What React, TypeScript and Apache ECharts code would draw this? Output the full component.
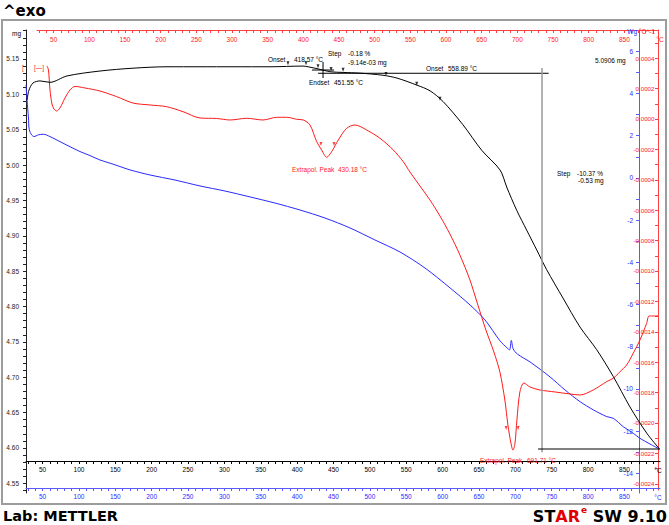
import React, { useEffect, useRef } from "react";
import * as echarts from "echarts";

// ---------- data ----------
// TGA mass curve (black): temperature °C, mass mg
const blackTemp = [28.6, 31.3, 36.8, 46.4, 60.2, 83.5, 128.9, 174.3, 221, 266.4, 311.8, 362.7, 408, 415, 428.8, 445.3, 463.2, 486.4, 518, 537.3, 564.8, 582.7, 600.5, 628, 653.7, 679, 688.1, 701.9, 715.6, 729.4, 743.1, 765.5, 788.9, 811.8, 834.7, 857.6, 880.6, 897.9];
const blackMass = [5.092, 5.106, 5.116, 5.119, 5.117, 5.126, 5.133, 5.137, 5.139, 5.139, 5.139, 5.139, 5.140, 5.139, 5.136, 5.132, 5.131, 5.130, 5.127, 5.123, 5.113, 5.105, 5.090, 5.057, 5.021, 4.993, 4.969, 4.936, 4.908, 4.880, 4.852, 4.812, 4.771, 4.739, 4.701, 4.658, 4.621, 4.599];
// small evaluation markers on the TGA curve
const blackMarkTemp = [387.4, 412.2, 428.7, 446.6, 463.2, 522.2, 564.4, 596.4];
const blackMarkMass = [5.141, 5.141, 5.137, 5.133, 5.132, 5.126, 5.112, 5.091];

// blue curve: temperature °C, value (Wg^-1)
const blueTemp = [27.2, 28.6, 30.6, 31.7, 35.0, 38.2, 44.1, 51.0, 60.2, 73.9, 87.7, 101.4, 115.2, 128.9, 142.7, 156.4, 170.2, 197.7, 232, 266.4, 300.8, 335.2, 369.5, 403.9, 438.3, 472.7, 507, 541.4, 575.8, 610.2, 637.7, 658.3, 678.9, 688.5, 692, 694.5, 697, 703, 720.2, 747.7, 768.4, 788.9, 807.2, 825.6, 834.7, 848.5, 862.2, 871.4, 885.2, 897.9];
const blueVal = [4.41, 3.70, 2.84, 2.28, 2.04, 1.96, 2.04, 2.07, 1.96, 1.72, 1.48, 1.25, 1.06, 0.85, 0.70, 0.54, 0.38, 0.14, -0.10, -0.38, -0.62, -0.90, -1.19, -1.52, -1.90, -2.37, -2.94, -3.51, -4.27, -5.21, -6.02, -6.73, -7.72, -8.05, -8.15, -7.7, -8.1, -8.35, -8.72, -9.43, -10.05, -10.6, -10.99, -11.31, -11.39, -11.79, -12.1, -12.34, -12.61, -12.84];

// red curve: temperature °C, value (°C^-1)
const redTemp = [40.6, 42.7, 44.8, 47.6, 50.4, 54.2, 58.8, 65.8, 72.9, 79.9, 93.9, 114.9, 138.3, 161.2, 185.1, 208.4, 231.3, 255.1, 278.5, 297.2, 320.6, 343.4, 362.6, 376.7, 390.7, 399.9, 409.3, 418.7, 425.7, 432.7, 439.7, 449, 460.8, 472.4, 488.8, 507.5, 526.1, 540.1, 549.5, 563.5, 577.5, 591.5, 605.5, 619.5, 633.5, 644.7, 655.9, 667.1, 675.5, 682.5, 686.8, 691, 693.8, 696.6, 699.4, 703.6, 709.2, 717.6, 731.6, 752.7, 773.7, 787.7, 806.4, 825.2, 834.5, 843.8, 853.3, 862.5, 871.9, 881.3, 884.9, 897.1];
const redVal = [0.000349, 0.000322, 0.000191, 0.0000987, 0.0000658, 0.0000526, 0.0000724, 0.000138, 0.000191, 0.000214, 0.000204, 0.000184, 0.000147, 0.000105, 0.0000921, 0.0000809, 0.000048, 0.0000066, 0.0000033, -0.0000066, 0.0000046, -0.0000066, 0.0000112, 0.0000112, -0.000002, -0.0000066, -0.0000395, -0.000149, -0.000204, -0.000252, -0.000215, -0.000138, -0.0000612, -0.0000395, -0.0000724, -0.000127, -0.000204, -0.000281, -0.000349, -0.000441, -0.000533, -0.000638, -0.000757, -0.000895, -0.001059, -0.001224, -0.001388, -0.001533, -0.001664, -0.001849, -0.002013, -0.002132, -0.002178, -0.002138, -0.00198, -0.001796, -0.001737, -0.001763, -0.001783, -0.001796, -0.001809, -0.001816, -0.001783, -0.001728, -0.001706, -0.001663, -0.001618, -0.001541, -0.001454, -0.001344, -0.001296, -0.001296];
// peak evaluation markers on the red curve
const redMarkTemp = [424.7, 443.0, 684.3, 701.1];
const redMarkVal = [-0.000178, -0.000178, -0.002046, -0.002046];

// evaluation lines on the TGA curve (temperature °C, mass mg)
const onsetLineTemp = [428.8, 745.8];
const onsetLineMass = [5.1298, 5.1298];
const stepVertTemp = [736.7, 736.7];
const stepVertMass = [5.1373, 4.594];
const stepBottomTemp = [731.2, 898.9];
const stepBottomMass = [4.5985, 4.5985];
const crossVTemp = [435.6, 435.6];
const crossVMass = [5.1458, 5.1231];
const crossHTemp = [420.4, 450.7];
const crossHMass = [5.1344, 5.1344];

// tick labels
const tempLabels = [50, 100, 150, 200, 250, 300, 350, 400, 450, 500, 550, 600, 650, 700, 750, 800, 850];
const massLabels = [4.55, 4.6, 4.65, 4.7, 4.75, 4.8, 4.85, 4.9, 4.95, 5.0, 5.05, 5.1, 5.15];
const blueLabels = [-14, -12, -10, -8, -6, -4, -2, 0, 2, 4, 6];
const redLabels = [-0.0024, -0.0022, -0.002, -0.0018, -0.0016, -0.0014, -0.0012, -0.001, -0.0008, -0.0006, -0.0004, -0.0002, 0, 0.0002, 0.0004];

// ---------- helpers ----------
const FONT = '"Liberation Sans", Arial, sans-serif';
const BIG = '"DejaVu Sans", sans-serif';
const RED = "#ff1a1a";
const RED_AX = "#ff4040";
const BLUE = "#2a2aff";
const BLUE_AX = "#5a5aff";

function steps(a: number, b: number, s: number, dec: number) {
  const out: number[] = [];
  const n = Math.round((b - a) / s);
  for (let i = 0; i <= n; i++) out.push(+(a + i * s).toFixed(dec));
  return out;
}
const zip = (a: number[], b: number[]) => a.map((v, i) => [v, b[i]]);

function axis(o: any) {
  return {
    type: "value",
    gridIndex: o.grid,
    position: o.pos,
    offset: o.offset || 0,
    min: o.min,
    max: o.max,
    axisLine: { show: true, onZero: false, lineStyle: { color: o.color, width: 1 } },
    axisTick: {
      show: true,
      inside: !!o.tickInside,
      length: 3,
      customValues: o.ticks,
      lineStyle: { color: o.color, width: 1 },
    },
    axisLabel: {
      show: true,
      inside: !!o.labelInside,
      customValues: o.labels,
      formatter: o.fmt,
      color: o.labelColor || o.color,
      fontSize: o.fontSize || 6.5,
      fontFamily: FONT,
      margin: o.margin,
    },
    splitLine: { show: false },
    minorTick: { show: false },
  };
}

function txt(text: string, x: number, y: number, fill = "#000", size = 6.5, align = "left", weight = "normal", family = FONT) {
  return {
    type: "text",
    x,
    y,
    z: 100,
    silent: true,
    style: { text, fill, font: `${weight} ${size}px ${family}`, textAlign: align, textVerticalAlign: "middle" },
  };
}

function lineSeries(name: string, t: number[], v: number[], xi: number, yi: number, color: string, width = 1, smooth: any = 0.3) {
  return {
    name,
    type: "line",
    xAxisIndex: xi,
    yAxisIndex: yi,
    data: zip(t, v),
    showSymbol: false,
    symbol: "none",
    smooth,
    lineStyle: { color, width },
    silent: true,
  };
}

function markers(name: string, t: number[], v: number[], xi: number, yi: number, color: string) {
  return {
    name,
    type: "scatter",
    xAxisIndex: xi,
    yAxisIndex: yi,
    data: zip(t, v),
    symbol: "triangle",
    symbolRotate: 180,
    symbolSize: [3, 4],
    symbolOffset: [0, -2],
    itemStyle: { color },
    silent: true,
    z: 5,
  };
}

export default function App() {
  const ref = useRef<HTMLDivElement>(null);
  useEffect(() => {
    if (!ref.current) return;
    const chart = echarts.init(ref.current, undefined, { renderer: "svg" });
    const tempTicks = steps(30, 890, 10, 0);
    const fmtT = (v: number) => String(Math.round(v));
    const option: any = {
      animation: false,
      backgroundColor: "#fff",
      textStyle: { fontFamily: FONT },
      grid: [
        { left: 26, top: 30, width: 634, height: 463 },
        { left: 37, top: 30, width: 621, height: 460 },
      ],
      xAxis: [
        axis({ grid: 0, pos: "bottom", offset: -32, min: 27.2, max: 898.9, color: "#000", ticks: tempTicks, labels: tempLabels, fmt: fmtT, margin: 5 }),
        axis({ grid: 0, pos: "bottom", offset: -5, min: 27.2, max: 898.9, color: BLUE_AX, labelColor: BLUE, ticks: tempTicks, labels: tempLabels, fmt: fmtT, margin: 5 }),
        axis({ grid: 1, pos: "top", min: 26.6, max: 897.2, color: RED_AX, labelColor: RED, ticks: tempTicks, labels: tempLabels, fmt: fmtT, tickInside: true, labelInside: true, margin: 6 }),
      ],
      yAxis: [
        axis({ grid: 0, pos: "left", min: 4.5363, max: 5.191, color: "#222", ticks: steps(4.54, 5.19, 0.01, 2), labels: massLabels, fmt: (v: number) => v.toFixed(2), margin: 7 }),
        axis({ grid: 0, pos: "right", offset: -21, min: -14.93, max: 7.01, color: BLUE_AX, labelColor: BLUE, ticks: steps(-14, 7, 1, 0), labels: blueLabels, fmt: (v: number) => String(Math.round(v)), tickInside: true, labelInside: true, margin: 6 }),
        axis({ grid: 1, pos: "right", min: -0.002441, max: 0.0005855, color: RED_AX, labelColor: RED, ticks: steps(-0.0024, 0.0005, 0.0001, 4), labels: redLabels, fmt: (v: number) => (Math.abs(v) < 1e-9 ? "0.0000" : v.toFixed(4)), tickInside: true, labelInside: true, margin: 3.5, fontSize: 6.2 }),
      ],
      series: [
        lineSeries("blue", blueTemp, blueVal, 1, 1, BLUE),
        lineSeries("red", redTemp, redVal, 2, 2, RED),
        lineSeries("tga", blackTemp, blackMass, 0, 0, "#000"),
        lineSeries("onset", onsetLineTemp, onsetLineMass, 0, 0, "#000", 1, false),
        lineSeries("stepV", stepVertTemp, stepVertMass, 0, 0, "#9a9a9a", 1.5, false),
        lineSeries("stepB", stepBottomTemp, stepBottomMass, 0, 0, "#000", 1, false),
        lineSeries("crossV", crossVTemp, crossVMass, 0, 0, "#000", 1, false),
        lineSeries("crossH", crossHTemp, crossHMass, 0, 0, "#000", 1, false),
        markers("tgaMarks", blackMarkTemp, blackMarkMass, 0, 0, "#000"),
        markers("redMarks", redMarkTemp, redMarkVal, 2, 2, RED),
      ],
      graphic: [
        { type: "rect", z: 0, silent: true, shape: { x: 2, y: 20, width: 664, height: 484 }, style: { fill: "none", stroke: "#9c9c9c", lineWidth: 2 } },
        txt("^exo", 3, 11, "#000", 15, "left", "bold", BIG),
        txt("Lab: METTLER", 3, 516, "#000", 14.5, "left", "bold", BIG),
        {
          type: "text", x: 580, y: 516, z: 100, silent: true,
          style: {
            text: "{k|ST}{r|AR}", font: `bold 16px ${BIG}`, textAlign: "right", textVerticalAlign: "middle",
            rich: { k: { fill: "#000", fontSize: 16, fontWeight: "bold", fontFamily: BIG }, r: { fill: "#e00000", fontSize: 16, fontWeight: "bold", fontFamily: BIG } },
          },
        },
        txt("e", 581, 510, "#e00000", 9, "left", "bold", BIG),
        txt("SW 9.10", 667, 516, "#000", 16, "right", "bold", BIG),
        txt("mg", 12, 33),
        txt("Wg", 637, 31, BLUE, 6.5, "right"),
        txt("°C^-1", 639, 31, RED),
        txt("°C", 660, 39, RED, 6.5, "center"),
        txt("°C", 658, 470, "#000", 6.5, "center"),
        txt("°C", 658, 497, BLUE, 6.5, "center"),
        txt("[—]", 34, 67, RED, 6.5),
        txt("[", 22, 67, RED, 6.5),
        txt("Onset", 268, 59),
        txt("418.57 °C", 294, 59),
        txt("Step", 328, 53),
        txt("-0.18 %", 348, 53),
        txt("-9.14e-03 mg", 348, 62),
        txt("Endset", 309, 82),
        txt("451.55 °C", 334, 82),
        txt("Onset", 426, 68),
        txt("558.89 °C", 448, 68),
        txt("5.0906 mg", 595, 60),
        txt("Step", 557, 173),
        txt("-10.37 %", 577, 173),
        txt("-0.53 mg", 578, 180.5),
        txt("Extrapol. Peak", 292, 169, RED),
        txt("430.18 °C", 338, 169, RED),
        txt("Extrapol. Peak", 480, 460, RED),
        txt("691.71 °C", 527, 460, RED),
      ],
    };
    chart.setOption(option);
    return () => chart.dispose();
  }, []);
  return <div ref={ref} style={{ position: "fixed", left: 0, top: 0, width: 669, height: 525, background: "#fff" }} />;
}
